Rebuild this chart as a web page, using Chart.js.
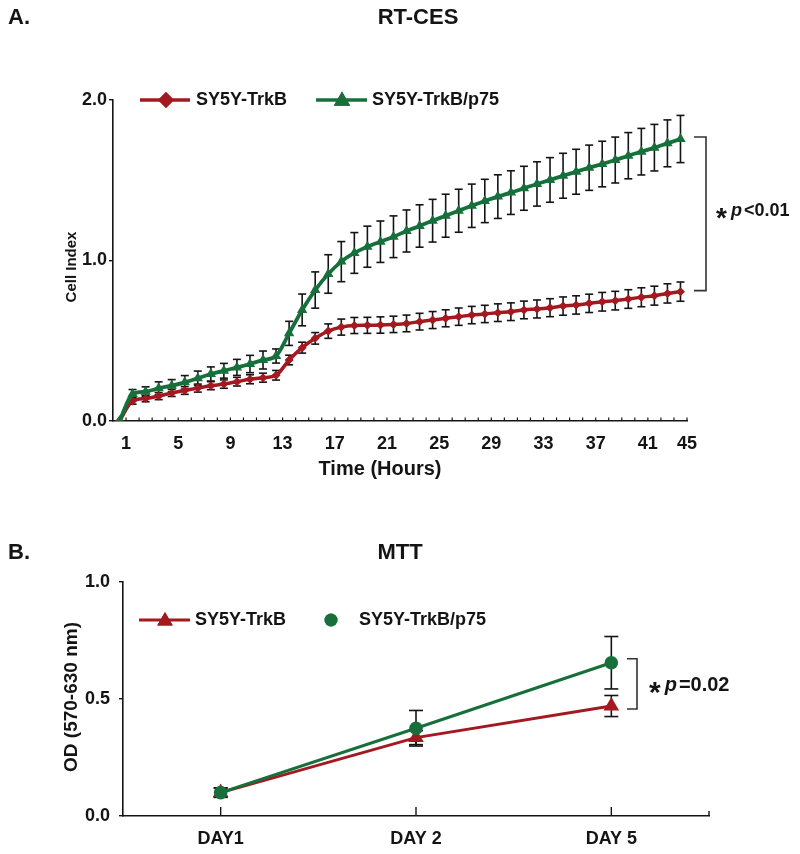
<!DOCTYPE html>
<html>
<head>
<meta charset="utf-8">
<script src="https://cdn.jsdelivr.net/npm/chart.js@4.4.1/dist/chart.umd.min.js"></script>
<style>
  html, body { margin: 0; padding: 0; background: #fff; }
  #wrapA { position: absolute; left: 0; top: 0; width: 800px; height: 500px; }
  #wrapB { position: absolute; left: 0; top: 500px; width: 800px; height: 354px; }
</style>
</head>
<body>
<div id="wrapA"><canvas id="chartA" width="800" height="500"></canvas></div>
<div id="wrapB"><canvas id="chartB" width="800" height="354"></canvas></div>
<script>
// ---- panel A : RT-CES (cell index per hour) ----
const hours = [0.5, 1.5, 2.5, 3.5, 4.5, 5.5, 6.5, 7.5, 8.5, 9.5, 10.5,
  11.5, 12.5, 13.5, 14.5, 15.5, 16.5, 17.5, 18.5, 19.5, 20.5, 21.5,
  22.5, 23.5, 24.5, 25.5, 26.5, 27.5, 28.5, 29.5, 30.5, 31.5, 32.5,
  33.5, 34.5, 35.5, 36.5, 37.5, 38.5, 39.5, 40.5, 41.5, 42.5, 43.5];

const trkB = [0, 0.125, 0.14, 0.155, 0.175, 0.19, 0.205, 0.22, 0.23, 0.245, 0.26,
  0.27, 0.285, 0.38, 0.457, 0.515, 0.56, 0.585, 0.595, 0.596, 0.598, 0.602,
  0.608, 0.619, 0.629, 0.64, 0.65, 0.66, 0.667, 0.675, 0.681, 0.692, 0.698,
  0.706, 0.716, 0.723, 0.733, 0.743, 0.75, 0.76, 0.771, 0.781, 0.795, 0.806];
const trkBErr = [0, 0.02, 0.02, 0.022, 0.022, 0.024, 0.025, 0.025, 0.026, 0.027, 0.028,
  0.028, 0.03, 0.03, 0.034, 0.036, 0.045, 0.05, 0.05, 0.05, 0.051, 0.051,
  0.052, 0.052, 0.053, 0.053, 0.054, 0.054, 0.054, 0.055, 0.055, 0.055, 0.056,
  0.056, 0.057, 0.057, 0.057, 0.058, 0.058, 0.058, 0.059, 0.059, 0.06, 0.06];

const trkBp75 = [0, 0.168, 0.183, 0.204, 0.22, 0.241, 0.266, 0.293, 0.313, 0.334, 0.355,
  0.38, 0.405, 0.546, 0.692, 0.816, 0.916, 0.993, 1.047, 1.086, 1.117, 1.148,
  1.184, 1.215, 1.248, 1.279, 1.31, 1.341, 1.371, 1.398, 1.423, 1.45, 1.477,
  1.502, 1.528, 1.553, 1.578, 1.601, 1.626, 1.653, 1.678, 1.703, 1.73, 1.757];
const trkBp75Err = [0, 0.028, 0.03, 0.04, 0.038, 0.042, 0.045, 0.044, 0.046, 0.05, 0.054,
  0.056, 0.044, 0.075, 0.099, 0.113, 0.12, 0.125, 0.127, 0.128, 0.129, 0.13,
  0.131, 0.132, 0.133, 0.134, 0.134, 0.135, 0.135, 0.136, 0.136, 0.137, 0.138,
  0.139, 0.14, 0.14, 0.141, 0.142, 0.143, 0.144, 0.145, 0.145, 0.146, 0.147];

const xTickValues = [1, 5, 9, 13, 17, 21, 25, 29, 33, 37, 41, 44];
const xTickLabels = ['1', '5', '9', '13', '17', '21', '25', '29', '33', '37', '41', '45'];
const yTicksA = [0, 1, 2];

// ---- panel B : MTT ----
const days = ['DAY1', 'DAY 2', 'DAY 5'];
const mttTrkB = [0.10, 0.335, 0.47];
const mttTrkBErr = [0.02, 0.03, 0.045];
const mttP75 = [0.10, 0.375, 0.655];
const mttP75Err = [0.02, 0.076, 0.112];
const yTicksB = [0, 0.5, 1];

const RED = '#a3191f';
const GREEN = '#17703b';
const INK = '#141414';
const FONT = '"Liberation Sans", Arial, Helvetica, sans-serif';

Chart.defaults.font.family = FONT;

function line(ctx, x1, y1, x2, y2) {
  ctx.beginPath();
  ctx.moveTo(x1, y1);
  ctx.lineTo(x2, y2);
  ctx.stroke();
}

function text(ctx, str, x, y, size, align, style) {
  ctx.font = (style || '') + ' bold ' + size + 'px ' + FONT;
  ctx.textAlign = align || 'left';
  ctx.textBaseline = 'middle';
  ctx.fillStyle = INK;
  ctx.fillText(str, x, y);
  return ctx.measureText(str).width;
}

function vtext(ctx, str, x, y, size) {
  ctx.save();
  ctx.translate(x, y);
  ctx.rotate(-Math.PI / 2);
  text(ctx, str, 0, 0, size, 'center');
  ctx.restore();
}

// "* p<0.01" style note: star, italic p, then the rest
function pNote(ctx, x, y, starSize, size, rest) {
  ctx.font = 'bold ' + starSize + 'px ' + FONT;
  ctx.textAlign = 'left';
  ctx.textBaseline = 'alphabetic';
  ctx.fillStyle = INK;
  ctx.fillText('*', x, y + starSize * 0.56);
  x += ctx.measureText('*').width + 4;
  x += text(ctx, 'p', x, y, size, 'left', 'italic') + 2;
  text(ctx, rest, x, y, size, 'left');
}

function marker(ctx, style, r, x, y, color) {
  ctx.fillStyle = color;
  ctx.strokeStyle = color;
  Chart.helpers.drawPoint(ctx, { pointStyle: style, radius: r, rotation: 0, borderWidth: 0 }, x, y);
  ctx.fill();
}

const errorBars = {
  id: 'errorBars',
  beforeDatasetsDraw(chart, args, opts) {
    const ctx = chart.ctx;
    const ys = chart.scales.y;
    ctx.save();
    ctx.strokeStyle = INK;
    ctx.lineWidth = opts.width;
    chart.data.datasets.forEach((ds, di) => {
      if (!ds.errors) return;
      const meta = chart.getDatasetMeta(di);
      meta.data.forEach((pt, i) => {
        const e = ds.errors[i];
        if (!e) return;
        const d = ds.data[i];
        const v = typeof d === 'object' ? d.y : d;
        const top = ys.getPixelForValue(v + e);
        const bot = ys.getPixelForValue(v - e);
        line(ctx, pt.x, top, pt.x, bot);
        line(ctx, pt.x - opts.cap, top, pt.x + opts.cap, top);
        line(ctx, pt.x - opts.cap, bot, pt.x + opts.cap, bot);
      });
    });
    ctx.restore();
  }
};

const decorA = {
  id: 'decorA',
  afterDraw(chart) {
    const { ctx, chartArea: a, scales: { x, y } } = chart;
    ctx.save();
    // small inward hour ticks
    ctx.strokeStyle = INK;
    ctx.lineWidth = 1.2;
    for (let h = x.min + 1; h <= x.max; h++) {
      const px = x.getPixelForValue(h);
      line(ctx, px, a.bottom, px, a.bottom - 3.5);
    }
    // titles
    text(ctx, 'A.', 8, 18, 22, 'left');
    text(ctx, 'RT-CES', 418, 18, 22, 'center');
    vtext(ctx, 'Cell Index', 72, 267, 15);
    text(ctx, 'Time (Hours)', 380, 469, 20, 'center');
    // legend
    const ly = y.getPixelForValue(2);
    ctx.lineWidth = 3.5;
    ctx.strokeStyle = RED;
    line(ctx, 140, ly, 190, ly);
    marker(ctx, 'rectRot', 8, 166, ly, RED);
    text(ctx, 'SY5Y-TrkB', 196, ly, 18, 'left');
    ctx.strokeStyle = GREEN;
    line(ctx, 316, ly, 367, ly);
    marker(ctx, 'triangle', 9.5, 342, ly + 1, GREEN);
    text(ctx, 'SY5Y-TrkB/p75', 372, ly, 18, 'left');
    // significance bracket between the last points
    const n = trkBp75.length - 1;
    const top = y.getPixelForValue(trkBp75[n]) - 2;
    const bot = y.getPixelForValue(trkB[n]) - 1;
    ctx.strokeStyle = '#333';
    ctx.lineWidth = 1.6;
    ctx.beginPath();
    ctx.moveTo(694, top);
    ctx.lineTo(706, top);
    ctx.lineTo(706, bot);
    ctx.lineTo(694, bot);
    ctx.stroke();
    pNote(ctx, 716, 211, 28, 18, '<0.01');
    ctx.restore();
  }
};

const decorB = {
  id: 'decorB',
  afterDraw(chart) {
    const { ctx, chartArea: a, scales: { x, y } } = chart;
    ctx.save();
    ctx.strokeStyle = INK;
    ctx.lineWidth = 1.4;
    days.forEach((d, i) => {
      const px = x.getPixelForValue(i);
      line(ctx, px, a.bottom, px, a.bottom - 9);
    });
    line(ctx, a.right, a.bottom, a.right, a.bottom - 5);
    text(ctx, 'B.', 8, 53, 22, 'left');
    text(ctx, 'MTT', 400, 53, 22, 'center');
    vtext(ctx, 'OD (570-630 nm)', 72, 197, 19);
    // legend
    const ly = 120;
    ctx.lineWidth = 3;
    ctx.strokeStyle = RED;
    line(ctx, 139, ly, 190, ly);
    marker(ctx, 'triangle', 9, 165, ly + 1, RED);
    text(ctx, 'SY5Y-TrkB', 195, ly, 18, 'left');
    marker(ctx, 'circle', 6.5, 331, ly, GREEN);
    text(ctx, 'SY5Y-TrkB/p75', 359, ly, 18, 'left');
    // bracket
    const top = y.getPixelForValue(mttP75[2]) - 4;
    const bot = y.getPixelForValue(mttTrkB[2]) + 3;
    ctx.strokeStyle = '#333';
    ctx.lineWidth = 1.6;
    ctx.beginPath();
    ctx.moveTo(627, top);
    ctx.lineTo(637, top);
    ctx.lineTo(637, bot);
    ctx.lineTo(627, bot);
    ctx.stroke();
    pNote(ctx, 649, 185, 30, 20, '=0.02');
    ctx.restore();
  }
};

const tickFont = { family: FONT, size: 18, weight: 'bold' };

new Chart(document.getElementById('chartA'), {
  type: 'line',
  data: {
    datasets: [
      {
        label: 'SY5Y-TrkB',
        data: hours.map((h, i) => ({ x: h, y: trkB[i] })),
        errors: trkBErr,
        borderColor: RED,
        backgroundColor: RED,
        borderWidth: 3.5,
        pointStyle: 'rectRot',
        pointRadius: 4.5,
        pointBorderWidth: 0,
        cubicInterpolationMode: 'monotone',
        order: 2
      },
      {
        label: 'SY5Y-TrkB/p75',
        data: hours.map((h, i) => ({ x: h, y: trkBp75[i] })),
        errors: trkBp75Err,
        borderColor: GREEN,
        backgroundColor: GREEN,
        borderWidth: 3.8,
        pointStyle: 'triangle',
        pointRadius: 6,
        pointBorderWidth: 0,
        cubicInterpolationMode: 'monotone',
        order: 1
      }
    ]
  },
  options: {
    responsive: false,
    animation: false,
    layout: { padding: { left: 0, right: 113, top: 100, bottom: 0 } },
    plugins: {
      legend: { display: false },
      tooltip: { enabled: false },
      errorBars: { cap: 4, width: 1.6 }
    },
    scales: {
      x: {
        type: 'linear',
        min: 0,
        max: 44,
        afterBuildTicks: s => { s.ticks = xTickValues.map(v => ({ value: v })); },
        afterFit: s => { s.height = 79; },
        grid: { display: false, drawTicks: false },
        border: { color: INK, width: 1.6 },
        ticks: {
          autoSkip: false, maxRotation: 0, padding: 12, color: INK, font: tickFont,
          callback: (v, i) => xTickLabels[i]
        }
      },
      y: {
        min: 0,
        max: 2,
        afterBuildTicks: s => { s.ticks = yTicksA.map(v => ({ value: v })); },
        afterFit: s => { s.width = 113; },
        grid: { drawOnChartArea: false, tickLength: 4, color: INK, lineWidth: 1.4 },
        border: { color: INK, width: 1.6 },
        ticks: { padding: 2, color: INK, font: tickFont, callback: v => v.toFixed(1) }
      }
    }
  },
  plugins: [errorBars, decorA]
});

new Chart(document.getElementById('chartB'), {
  type: 'line',
  data: {
    labels: days,
    datasets: [
      {
        label: 'SY5Y-TrkB',
        data: mttTrkB,
        errors: mttTrkBErr,
        borderColor: RED,
        backgroundColor: RED,
        borderWidth: 3,
        pointStyle: 'triangle',
        pointRadius: 9,
        pointBorderWidth: 0,
        tension: 0,
        order: 2
      },
      {
        label: 'SY5Y-TrkB/p75',
        data: mttP75,
        errors: mttP75Err,
        borderColor: GREEN,
        backgroundColor: GREEN,
        borderWidth: 3,
        pointStyle: 'circle',
        pointRadius: 6.8,
        pointBorderWidth: 0,
        tension: 0,
        order: 1
      }
    ]
  },
  options: {
    responsive: false,
    animation: false,
    layout: { padding: { left: 0, right: 91, top: 82, bottom: 0 } },
    plugins: {
      legend: { display: false },
      tooltip: { enabled: false },
      errorBars: { cap: 7, width: 1.6 }
    },
    scales: {
      x: {
        type: 'category',
        offset: true,
        afterFit: s => { s.height = 38; },
        grid: { display: false, drawTicks: false },
        border: { color: INK, width: 1.6 },
        ticks: { padding: 12, color: INK, font: { family: FONT, size: 18, weight: 'bold' } }
      },
      y: {
        min: 0,
        max: 1,
        afterBuildTicks: s => { s.ticks = yTicksB.map(v => ({ value: v })); },
        afterFit: s => { s.width = 123; },
        grid: { drawOnChartArea: false, tickLength: 4, color: INK, lineWidth: 1.4 },
        border: { color: INK, width: 1.6 },
        ticks: { padding: 9, color: INK, font: tickFont, callback: v => v.toFixed(1) }
      }
    }
  },
  plugins: [errorBars, decorB]
});
</script>
</body>
</html>
